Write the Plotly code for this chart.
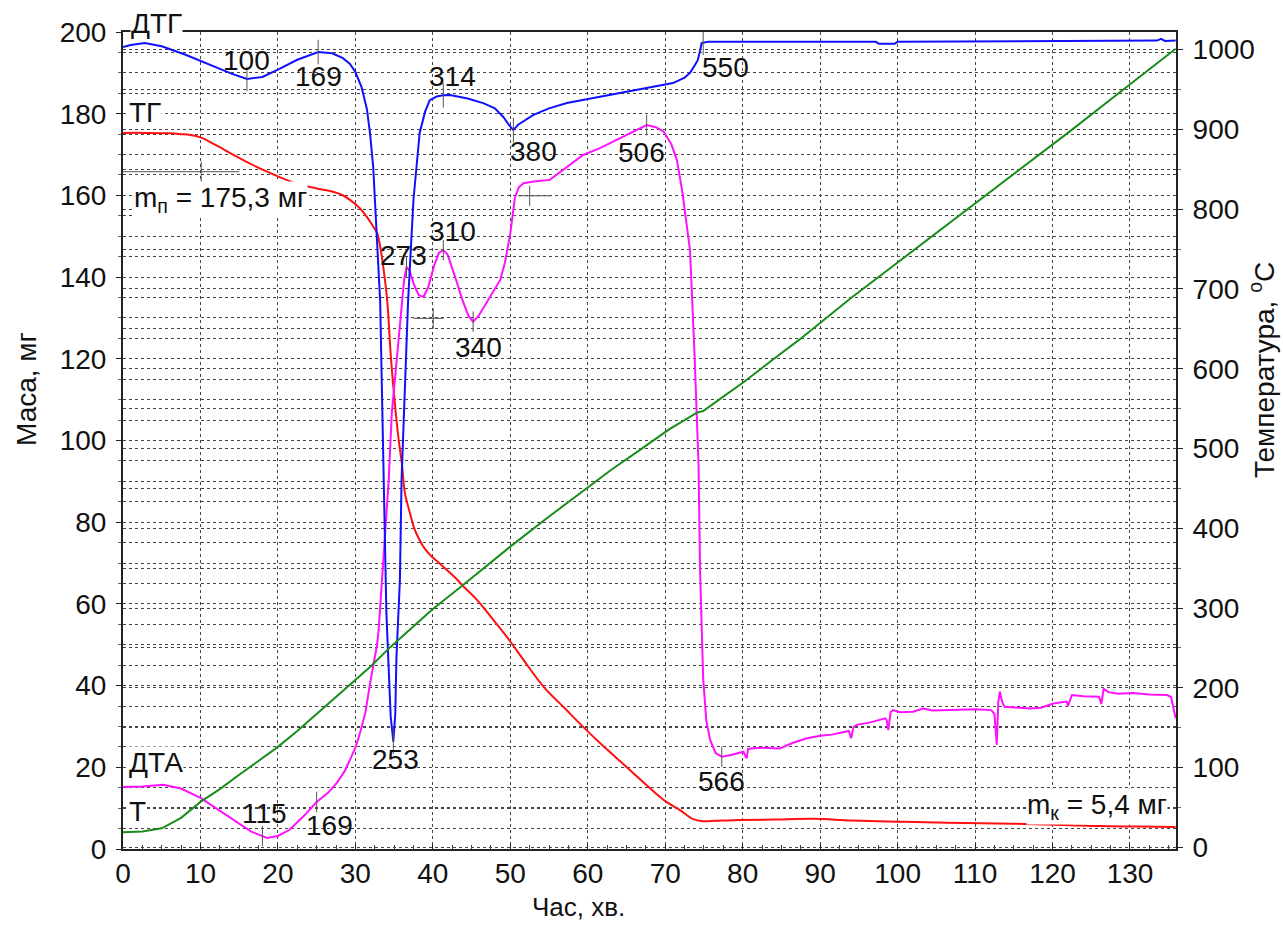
import numpy as np
import plotly.graph_objects as go

# ---------------- data (time in minutes) ----------------
tg_t = [0, 3, 6, 7.4, 8.7, 10, 12, 14.2, 16.4, 18.6, 20.7, 22.9, 25, 27.1, 28.3, 29.3,
        30.5, 31.5, 32.2, 32.8, 33.2, 33.6, 34.1, 34.6, 35.1, 35.6, 36.0, 36.4, 37.05,
        37.6, 38.3, 39.0, 39.85, 40.8, 41.8, 43.0, 43.9, 45.7, 47.8, 50.0, 51.7, 54.3,
        57, 59.4, 62, 65.0, 67.5, 69.8, 72.0, 73.6, 74.9, 76.5, 79.7, 84, 89.1, 94,
        99.9, 106.4, 115, 121.4, 126.1, 131, 135.9]
tg_m = [175.3, 175.3, 175.2, 175.0, 174.8, 174.2, 172.3, 170.0, 167.8, 165.8, 164.1,
        162.6, 161.7, 160.9, 160.1, 158.9, 157.0, 154.7, 152.7, 150.8, 147.5, 142.5,
        134.4, 120.0, 109.0, 100.0, 94.4, 87.1, 82.2, 78.5, 75.6, 73.4, 71.6, 70.0,
        68.3, 66.2, 64.4, 61.0, 56.1, 50.8, 46.3, 39.7, 34.5, 29.9, 25.2, 20.1, 15.8,
        12.0, 9.4, 7.3, 6.8, 6.9, 7.1, 7.2, 7.4, 7.0, 6.7, 6.4, 6.2, 5.9, 5.6, 5.5, 5.4]

dtg_t = [0, 1, 2.8, 5, 8, 11, 14, 16, 18, 20, 22.5, 25.2, 27, 28.4, 29.3, 30, 30.8,
         31.5, 31.9, 32.3, 32.5, 32.8, 33.2, 33.4, 33.6, 33.8, 34.0, 34.26, 34.56,
         34.9, 35.15, 35.3, 35.5, 35.75, 35.96, 36.4, 36.8, 37.5, 38.3, 39.0, 39.6,
         40.5, 41.3, 42.2, 44.5, 46.5, 48, 49.1, 49.8, 50.4, 51, 53, 55, 57.3, 61.6,
         65, 68, 71, 72.5, 73.2, 73.8, 74.2, 74.5, 74.7, 75.5, 85, 92, 97.2, 97.6,
         99.6, 100, 108, 112, 118, 125, 133.5, 134, 134.5, 135.9]
dtg_v = [196.3, 196.8, 197.3, 196.5, 194.5, 192.2, 189.8, 188.5, 189.0, 190.8, 193.2,
         195.1, 194.8, 193.6, 192.2, 190.2, 186.5, 181.0, 175.0, 167.0, 159.0, 150.8,
         134.0, 114.8, 94.5, 74.0, 58.0, 46.0, 32.4, 26.3, 33.0, 47.0, 56.0, 65.9,
         90.3, 114.8, 134.0, 159.0, 175.3, 180.5, 183.3, 184.2, 184.5, 184.6, 183.7,
         182.6, 181.3, 179.2, 177.3, 176.0, 177.3, 179.7, 181.3, 182.6, 184.1, 185.3,
         186.3, 187.5, 188.8, 190.0, 191.8, 193.1, 195.5, 197.3, 197.6, 197.6, 197.7,
         197.6, 197.1, 197.1, 197.6, 197.7, 197.6, 197.8, 197.8, 197.9, 198.3, 197.8,
         197.9]

dta_t = [0, 2.5, 5.2, 7.5, 10, 12, 14.2, 16.5, 18.6, 20, 21.5, 23.3, 25, 26.5, 27.6,
         28.6, 29.3, 30, 30.6, 31.3, 31.9, 32.3, 32.8, 33.0, 33.6, 34.3, 34.7, 34.95,
         35.5, 36.0, 36.3, 36.6, 37.0, 37.6, 38.2, 38.8, 39.4, 40.2, 40.8, 41.35, 41.9,
         42.8, 43.8, 44.6, 45.2, 45.9, 46.9, 48.0, 48.7, 49.3, 50.0, 50.6, 51.1, 51.7,
         53, 55.1, 57, 59.4, 61.5, 63.7, 65.7, 67.6, 68.8, 69.8, 70.8, 71.5, 72.2, 72.8,
         73.2, 73.8, 74.3, 74.5, 74.9, 75.3, 75.8, 76.5, 77.3, 78.5, 80.1, 80.5, 80.7,
         81.1, 82.5, 84.8, 86.5, 88.3, 90.0, 91.5, 93.4, 93.7, 94.0, 94.3, 94.7, 96.5,
         98.4, 98.6, 98.8, 99.1, 99.4, 100.3, 102, 103.3, 104.5, 106.3, 108.5, 110,
         112.1, 112.5, 112.8, 113.0, 113.2, 113.5, 113.8, 115.5, 117.1, 118.5, 120.1,
         121.8, 122.0, 122.5, 124, 126.0, 126.3, 126.6, 127.2, 128.5, 130.4, 132.5,
         134.8, 135.3, 135.6, 135.9]
dta_v = [15.2, 15.3, 15.7, 14.8, 12.5, 10.0, 7.1, 4.3, 2.7, 3.2, 4.7, 8.0, 11.5, 13.8,
         16.2, 19.0, 21.8, 24.8, 28.4, 33.5, 40.6, 45.0, 50.0, 53.6, 70.0, 90.3, 106.7,
         112.0, 122.0, 134.4, 139.5, 142.5, 141.5, 138.0, 135.5, 135.2, 137.5, 143.0,
         146.0, 146.6, 145.5, 140.5, 134.5, 130.5, 129.1, 130.5, 133.6, 136.8, 139.3,
         143.5, 150.7, 159.5, 162.0, 163.0, 163.4, 163.8, 166.5, 169.9, 171.5, 173.6,
         175.5, 177.2, 176.7, 175.6, 172.5, 168.7, 161.0, 152.3, 146.6, 120.4, 94.2,
         68.0, 41.7, 31.5, 26.7, 23.5, 22.6, 23.0, 23.8, 22.2, 24.5, 24.6, 24.8, 24.6,
         26.0, 27.1, 27.7, 28.0, 28.7, 28.9, 27.1, 29.8, 30.4, 31.0, 32.0, 31.5, 29.1,
         33.5, 34.0, 33.5, 33.6, 34.4, 33.9, 34.0, 34.0, 34.2, 34.0, 33.0, 25.5, 36.0,
         38.5, 36.0, 34.8, 34.5, 34.4, 34.6, 35.6, 36.1, 35.0, 37.7, 37.4, 37.3, 35.5,
         39.2, 38.4, 38.0, 38.2, 37.8, 37.7, 37.2, 34.5, 32.0]

temp_t = [0, 2.5, 5, 7.5, 10, 12.5, 15, 17.5, 20, 22.5, 25, 27.5, 30, 32, 34.5, 36.5,
          39.85, 43.9, 50, 54.5, 59, 63, 66.7, 70.5, 74.1, 74.9, 77.5, 80.1, 83.7,
          87.4, 93.9, 100, 109, 115.5, 121.9, 128.9, 135.9]
temp_c = [19, 20, 24, 37, 57, 73, 91, 108, 126, 146, 167, 189, 210, 227, 251, 268,
          297.5, 329, 377, 411, 444, 473, 498, 524, 545, 547, 565, 583, 610, 637, 688,
          733, 799, 847, 895, 948, 1001]

# characteristic temperatures marked on the curves
dtg_peak_t = [16.0, 25.2, 34.9, 41.35, 50.4, 74.9]
dtg_peak_lbl = ["100", "169", "253", "314", "380", "550"]
dta_peak_t = [18.0, 25.0, 36.6, 41.35, 45.2, 67.6, 77.3]
dta_peak_lbl = ["115", "169", "273", "310", "340", "506", "566"]

m_start = "175,3"
m_end = "5,4"

# mass-step markers on TG (centre time, mass, line start, line end)
step_t = [10.1, 40.05, 52.5]
step_m = [165.8, 129.9, 159.9]
step_from = [0.0, 37.5, 51.0]
step_to = [15.0, 41.35, 55.3]

# ---------------- figure ----------------
FONT = "Arial, Liberation Sans, sans-serif"
INK = "#111111"
GRID = "#454545"
TS = 28  # text size

fig = go.Figure()

fig.add_trace(go.Scatter(x=tg_t, y=tg_m, mode="lines", line=dict(color="#ff1010", width=2),
                         line_shape="spline", name="ТГ", showlegend=False))
fig.add_trace(go.Scatter(x=dta_t, y=dta_v, mode="lines", line=dict(color="#ff10ff", width=2),
                         name="ДТА", showlegend=False))
fig.add_trace(go.Scatter(x=dtg_t, y=dtg_v, mode="lines", line=dict(color="#1010ff", width=2),
                         name="ДТГ", showlegend=False))
fig.add_trace(go.Scatter(x=temp_t, y=temp_c, mode="lines", line=dict(color="#1a8c1a", width=2),
                         yaxis="y2", name="T", showlegend=False))

# small vertical marks at the characteristic points
mx, my = [], []
for t in dtg_peak_t:
    v = float(np.interp(t, dtg_t, dtg_v))
    mx += [t, t, None]
    my += [v - 3, v + 3, None]
for t in dta_peak_t:
    v = float(np.interp(t, dta_t, dta_v))
    mx += [t, t, None]
    my += [v - 2.5, v + 2.5, None]
for tc, m, a, b in zip(step_t, step_m, step_from, step_to):
    mx += [a, b, None, tc, tc, None]
    my += [m, m, None, m - 2.5, m + 2.5, None]
fig.add_trace(go.Scatter(x=mx, y=my, mode="lines", line=dict(color="#555555", width=1),
                         showlegend=False, hoverinfo="skip"))

annotations = []
# label offsets in pixels relative to the marked point
dtg_shift = {"100": (0, 18), "169": (0, -24), "253": (2, -18), "314": (9, 19),
             "380": (20, -21), "550": (22, -25)}
dta_shift = {"115": (2, 23), "169": (13, -23), "273": (-3, 11), "310": (9, 19),
             "340": (5, -26), "506": (-5, -27), "566": (0, -25)}
for t, lbl in zip(dtg_peak_t, dtg_peak_lbl):
    v = float(np.interp(t, dtg_t, dtg_v))
    dx, dy = dtg_shift[lbl]
    annotations.append(dict(x=t, y=v, xref="x", yref="y", text=lbl, showarrow=False,
                            xshift=dx, yshift=dy, font=dict(size=TS, color=INK, family=FONT)))
for t, lbl in zip(dta_peak_t, dta_peak_lbl):
    v = float(np.interp(t, dta_t, dta_v))
    dx, dy = dta_shift[lbl]
    annotations.append(dict(x=t, y=v, xref="x", yref="y", text=lbl, showarrow=False,
                            xshift=dx, yshift=dy, font=dict(size=TS, color=INK, family=FONT)))

def name_label(text, x, y, anchor="left", yref="y"):
    return dict(x=x, y=y, xref="x", yref=yref, text=text, showarrow=False, xanchor=anchor,
                yanchor="middle", bgcolor="white", borderpad=0,
                font=dict(size=TS, color=INK, family=FONT))

annotations += [
    name_label("ДТГ", 0.9, 1.0098, yref="paper"),
    name_label("ТГ", 0.65, 180.2),
    name_label("m<sub>п</sub> = " + m_start + " мг", 1.3, 158.9),
    name_label("ДТА", 0.65, 21.1),
    name_label("Т", 0.65, 9.1),
    name_label("m<sub>к</sub> = " + m_end + " мг", 134.9, 10.5, anchor="right"),
]

# axis titles placed as annotations (pixel-based placement relative to the plot area)
PL, PT, PW, PH = 123, 32, 1053, 817
def px(x):
    return (x - PL) / PW
def py(y):
    return (PT + PH - y) / PH

annotations += [
    dict(x=px(26), y=py(389), xref="paper", yref="paper", text="Маса, мг", textangle=-90,
         showarrow=False, xanchor="center", yanchor="middle",
         font=dict(size=TS, color=INK, family=FONT)),
    dict(x=px(1262), y=py(370), xref="paper", yref="paper",
         text="Температура, <sup>o</sup>C", textangle=-90,
         showarrow=False, xanchor="center", yanchor="middle",
         font=dict(size=TS, color=INK, family=FONT)),
    dict(x=px(578), y=py(907), xref="paper", yref="paper", text="Час, хв.",
         showarrow=False, xanchor="center", yanchor="middle",
         font=dict(size=TS - 2, color=INK, family=FONT)),
]

fig.update_layout(
    width=1283, height=926, autosize=False,
    margin=dict(l=123, r=107, t=32, b=77, pad=0),
    paper_bgcolor="white", plot_bgcolor="white",
    font=dict(family=FONT, color=INK, size=TS),
    annotations=annotations,
    xaxis=dict(
        range=[0, 135.94], tickmode="linear", tick0=0, dtick=10,
        showgrid=True, gridcolor=GRID, gridwidth=1, griddash="dot",
        ticks="inside", ticklen=5, tickcolor="#222",
        minor=dict(dtick=2.5, ticks="inside", ticklen=4, tickcolor="#444", showgrid=False),
        showline=True, linecolor="#222", linewidth=2, mirror=True, zeroline=False,
        tickfont=dict(size=TS, color=INK, family=FONT), ticklabelstandoff=-2,
    ),
    yaxis=dict(
        range=[0, 200], tickmode="linear", tick0=0, dtick=20,
        showgrid=True, gridcolor=GRID, gridwidth=1, griddash="dot",
        minor=dict(dtick=5, showgrid=True, gridcolor=GRID, gridwidth=1, griddash="dot",
                   ticks="outside", ticklen=3, tickcolor="#666"),
        ticks="outside", ticklen=5, tickcolor="#222",
        showline=True, linecolor="#222", linewidth=2, zeroline=False,
        tickfont=dict(size=TS, color=INK, family=FONT), ticklabelstandoff=4,
    ),
    yaxis2=dict(
        range=[-2, 1022], overlaying="y", side="right", tickmode="linear", tick0=0, dtick=100,
        showgrid=True, gridcolor=GRID, gridwidth=1, griddash="dot",
        minor=dict(dtick=50, showgrid=True, gridcolor=GRID, gridwidth=1, griddash="dot",
                   ticks="outside", ticklen=3, tickcolor="#666"),
        ticks="outside", ticklen=5, tickcolor="#222",
        showline=True, linecolor="#222", linewidth=2, zeroline=False,
        tickfont=dict(size=TS, color=INK, family=FONT), ticklabelstandoff=4,
    ),
)

fig.write_html("out.html")
